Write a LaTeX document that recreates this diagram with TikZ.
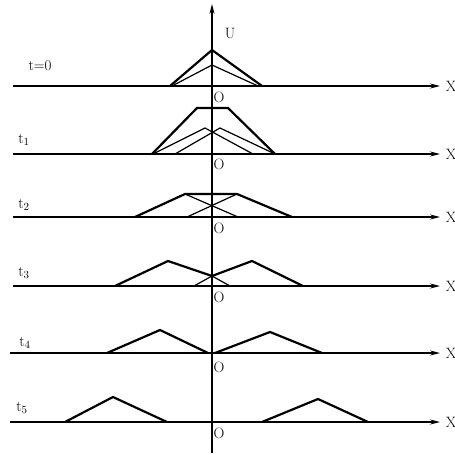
\documentclass[tikz,border=0pt]{standalone}
\usetikzlibrary{arrows.meta}
\begin{document}
\begin{tikzpicture}[x=1pt,y=-1pt,
  axis/.style={line width=1.3pt,-{Stealth[length=10pt,width=5pt]}},
  wave/.style={line width=2.2pt,line join=miter},
  half/.style={line width=1.2pt},
  lbl/.style={font=\fontsize{15}{17}\selectfont,inner sep=0pt}]
\useasboundingbox (0,0) rectangle (455,455);
% vertical axis
\coordinate (ub) at (212,453);
\coordinate (ut) at (212,4);
\draw[axis] (ub) -- (ut);
\node[lbl] (U) at (230,33) {U};
% horizontal axes
\foreach \y/\s/\n in {86/13/0,154/13/1,217/13/2,286/13/3,353/10/4,422/10/5}{
  \coordinate (a\n) at (\s,\y);
  \coordinate (b\n) at (440,\y);
  \draw[axis] (a\n) -- (b\n);
  \node[lbl] (X\n) at (451,\y) {X};
}
\node[lbl] (O0) at (219,97) {O};
\node[lbl] (O1) at (219,164) {O};
\node[lbl] (O2) at (219,228) {O};
\node[lbl] (O3) at (219,297) {O};
\node[lbl] (O4) at (219,367) {O};
\node[lbl] (O5) at (219,433) {O};
% time labels
\node[lbl] (T0) at (40,66) {t=0};
\node[lbl] (T1) at (24,140) {t$_1$};
\node[lbl] (T2) at (24,205) {t$_2$};
\node[lbl] (T3) at (24,273) {t$_3$};
\node[lbl] (T4) at (25,343) {t$_4$};
\node[lbl] (T5) at (22,408) {t$_5$};
% t = 0
\draw[wave] (170,86) -- (212,50) -- (262,86);
\draw[half] (172,86) -- (212,65) -- (258,86);
% t1
\draw[wave] (152,154) -- (197,108) -- (228,108) -- (275,154);
\draw[half] (153,154) -- (205,128) -- (253,154);
\draw[half] (175,154) -- (220,128) -- (275,154);
% t2
\draw[wave] (135,217) -- (185,194) -- (237,194) -- (292,217);
\draw[half] (185,194) -- (238,217);
\draw[half] (237,194) -- (187,217);
% t3
\draw[wave] (115,286) -- (168,261) -- (212,276) -- (252,261) -- (303,286);
\draw[half] (212,276) -- (230,286);
\draw[half] (212,276) -- (194,286);
% t4
\draw[wave] (107,353) -- (160,330) -- (208,353);
\draw[wave] (215,353) -- (270,332) -- (322,353);
% t5
\draw[wave] (65,422) -- (113,397) -- (167,422);
\draw[wave] (262,422) -- (318,399) -- (368,422);
\end{tikzpicture}
\end{document}
